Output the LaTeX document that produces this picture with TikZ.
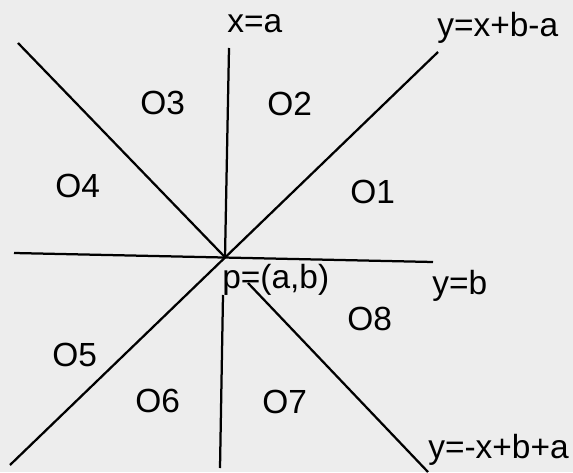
\documentclass[tikz,border=0pt]{standalone}
\usepackage{fontspec}
\setmainfont{Liberation Sans}
\usepackage{tikz}
\usetikzlibrary{positioning}

\definecolor{papier}{RGB}{237,237,237}

\begin{document}
\begin{tikzpicture}[
    gerade/.style={black, line width=1.6pt},
    lbl/.style={inner sep=0pt, anchor=base west, font=\fontsize{23.8}{28}\selectfont}
  ]
  % Blatt
  \fill[papier] (0,0) rectangle (14.325,11.8);
  \useasboundingbox (0,0) rectangle (14.325,11.8);

  % Punkte
  \coordinate (p) at (5.625,5.37);
  \coordinate (hl) at (0.35,5.475);
  \coordinate (hr) at (10.825,5.25);
  \coordinate (vo) at (5.725,10.6);
  \coordinate (vu1) at (5.575,4.425);
  \coordinate (vu2) at (5.5,0.1);
  \coordinate (dlu) at (0.25,0.175);
  \coordinate (dro) at (10.95,10.5);
  \coordinate (alo) at (0.45,10.725);
  \coordinate (aru1) at (6.2,4.725);
  \coordinate (aru2) at (10.7,0);

  % Geraden
  \draw[gerade] (hl) -- (hr);
  \draw[gerade] (vo) -- (p);
  \draw[gerade] (vu1) -- (vu2);
  \draw[gerade] (dlu) -- (dro);
  \draw[gerade] (alo) -- (p);
  \draw[gerade] (aru1) -- (aru2);

  % Geradengleichungen
  \node[lbl] (xa) at (5.675,10.975) {x=a};
  \node[lbl] (yxba) at (10.925,10.875) {y=x+b-a};
  \node[lbl] (yb) at (10.8,4.4375) {y=b};
  \node[lbl] (ymxba) at (10.7,0.35) {y=-x+b+a};
  \node[lbl] (pab) at (5.55,4.6) {p=(a,b)};

  % Oktanten
  \node[lbl] (o1) at (8.75,6.725) {O1};
  \node[lbl] (o2) at (6.675,8.9) {O2};
  \node[lbl] (o3) at (3.5,8.925) {O3};
  \node[lbl] (o4) at (1.375,6.875) {O4};
  \node[lbl] (o5) at (1.3,2.65) {O5};
  \node[lbl] (o6) at (3.375,1.5) {O6};
  \node[lbl] (o7) at (6.55,1.475) {O7};
  \node[lbl] (o8) at (8.675,3.55) {O8};
\end{tikzpicture}
\end{document}
